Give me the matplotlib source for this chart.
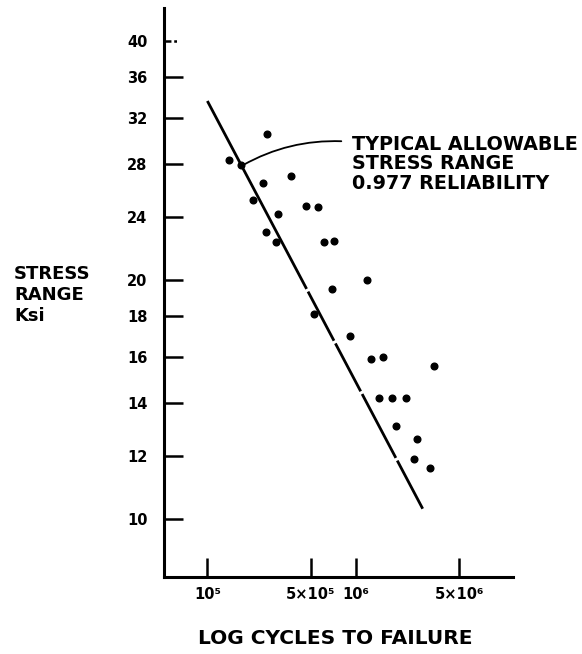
import matplotlib
matplotlib.use('Agg')
import matplotlib.pyplot as plt
from matplotlib.ticker import NullLocator, FixedLocator, FixedFormatter

# ---- data ----
cycles = [2.54e5, 1.40e5, 1.68e5, 2.36e5, 3.65e5, 2.02e5, 3.01e5, 4.60e5, 5.60e5,
          2.48e5, 2.89e5, 6.11e5, 7.13e5, 1.20e6, 6.92e5, 5.24e5, 9.14e5, 1.26e6,
          1.52e6, 3.35e6, 1.44e6, 1.75e6, 2.17e6, 1.86e6, 2.59e6, 2.46e6, 3.18e6]
stress = [30.5, 28.3, 27.9, 26.5, 27.0, 25.2, 24.2, 24.8, 24.7,
          23.0, 22.3, 22.3, 22.4, 20.0, 19.5, 18.1, 17.0, 15.9,
          16.0, 15.6, 14.2, 14.2, 14.2, 13.1, 12.6, 11.9, 11.6]
allow_cycles = [1.0e5, 2.83e6]
allow_stress = [33.6, 10.3]
y_ticks = [10, 12, 14, 16, 18, 20, 24, 28, 32, 36, 40]
y_labels = [str(v) for v in y_ticks]
x_ticks = [1e5, 5e5, 1e6, 5e6]
x_labels = ['10\u2075', '5\u00d710\u2075', '10\u2076', '5\u00d710\u2076']
note = 'TYPICAL ALLOWABLE\nSTRESS RANGE\n0.977 RELIABILITY'

plt.rcParams['lines.scale_dashes'] = False
W, H = 582, 654
fig = plt.figure(figsize=(W / 100, H / 100), dpi=100)
fig.patch.set_facecolor('white')
ax = fig.add_axes([164 / W, 1 - 577 / H, 349 / W, 569 / H])
ax.set_xscale('log')
ax.set_yscale('log')
ax.set_xlim(5.1e4, 1.15e7)
ax.set_ylim(8.45, 44)

for s in ['top', 'right']:
    ax.spines[s].set_visible(False)
for s in ['left', 'bottom']:
    ax.spines[s].set_linewidth(2.2)

ax.xaxis.set_major_locator(FixedLocator(x_ticks))
ax.xaxis.set_major_formatter(FixedFormatter(x_labels))
ax.yaxis.set_major_locator(FixedLocator(y_ticks))
ax.yaxis.set_major_formatter(FixedFormatter(y_labels))
ax.xaxis.set_minor_locator(NullLocator())
ax.yaxis.set_minor_locator(NullLocator())
ax.tick_params(axis='both', direction='in', length=13.5, width=1.8, labelsize=10.5)
ax.tick_params(axis='y', pad=12)
ax.tick_params(axis='x', pad=7)
for lab in ax.get_xticklabels() + ax.get_yticklabels():
    lab.set_fontweight('bold')

# 40 tick drawn dashed
ax.yaxis.get_major_ticks()[-1].tick1line.set_visible(False)
ax.plot([0, 0.055], [40, 40], transform=ax.get_yaxis_transform(), color='black',
        lw=1.8, ls=(0, (5, 2, 2, 5)), clip_on=False)

# allowable line with small hand-drawn gaps
ax.plot(allow_cycles, allow_stress, color='black', lw=2.0,
        ls=(0, (153, 2.2, 40, 2.2, 39, 2.2, 52, 2.2, 200)), solid_capstyle='butt')

# data points
ax.plot(cycles, stress, 'o', color='black', markersize=4.8, ls='none')

# leader and note
ax.annotate('', xy=(1.74e5, 27.9), xytext=(8.0e5, 29.9),
            arrowprops=dict(arrowstyle='-', connectionstyle='arc3,rad=0.14',
                            lw=1.3, color='black', shrinkA=0, shrinkB=0))
ax.text(9.4e5, 28.0, note, ha='left', va='center', fontsize=13.8, fontweight='bold',
        linespacing=1.03)

# axis titles
fig.text(14 / W, 1 - 295 / H, 'STRESS\nRANGE\nKsi', ha='left', va='center',
         fontsize=13, fontweight='bold', linespacing=1.2)
fig.text(335 / W, 1 - 638 / H, 'LOG CYCLES TO FAILURE', ha='center', va='center',
         fontsize=14.5, fontweight='bold')

fig.savefig('out.png', dpi=100, facecolor='white')
